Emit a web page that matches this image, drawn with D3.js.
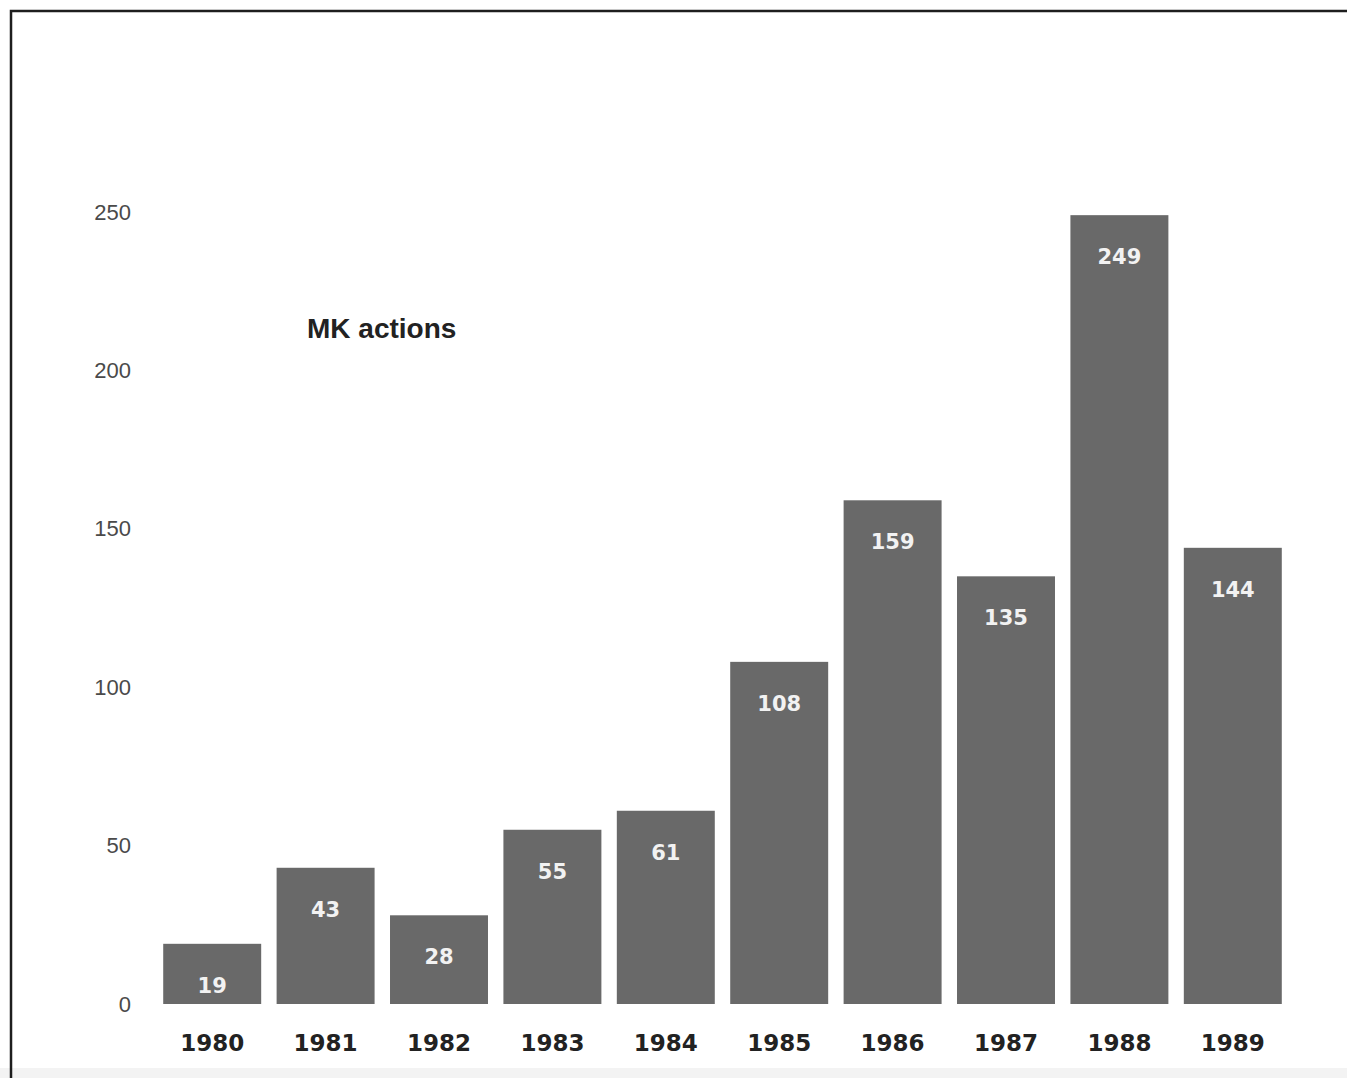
<!DOCTYPE html>
<html>
<head>
<meta charset="utf-8">
<script src="https://cdn.jsdelivr.net/npm/d3@7"></script>
<style>
  body { margin: 0; background: #fff; }
  svg { display: block; }
</style>
</head>
<body>
<script>
// chart data
var years = ['1980', '1981', '1982', '1983', '1984', '1985', '1986', '1987', '1988', '1989'];
var actions = [19, 43, 28, 55, 61, 108, 159, 135, 249, 144];
var yTicks = [0, 50, 100, 150, 200, 250];
var title = 'MK actions';

var width = 1347, height = 1078;

var svg = d3.select('body').append('svg')
  .attr('width', width)
  .attr('height', height);

// frame around the chart
svg.append('rect')
  .attr('x', 0).attr('y', 1068)
  .attr('width', width).attr('height', 10)
  .attr('fill', '#f3f3f3');
svg.append('path')
  .attr('d', 'M11,' + height + 'V11H' + width)
  .attr('fill', 'none')
  .attr('stroke', '#1e1e1e')
  .attr('stroke-width', 2.5);

// scales
var x = d3.scaleBand()
  .domain(years)
  .range([155.5, 1289.5])
  .paddingInner(0.136)
  .paddingOuter(0.068);

var y = d3.scaleLinear()
  .domain([0, 250])
  .range([1004, 212]);

// y axis labels only
var yAxis = svg.append('g')
  .attr('transform', 'translate(131,0)')
  .call(d3.axisLeft(y).tickValues(yTicks).tickSize(0).tickPadding(0));
yAxis.select('.domain').remove();
yAxis.selectAll('text')
  .attr('font-family', 'Liberation Sans, Arial, sans-serif')
  .attr('font-size', 22)
  .attr('fill', '#4a4a4a');

// bars
svg.append('g').selectAll('rect')
  .data(actions)
  .join('rect')
  .attr('x', function(d, i) { return x(years[i]); })
  .attr('y', function(d) { return y(d); })
  .attr('width', x.bandwidth())
  .attr('height', function(d) { return y(0) - y(d); })
  .attr('fill', '#696969');

// value labels inside bars
svg.append('g').selectAll('text')
  .data(actions)
  .join('text')
  .attr('x', function(d, i) { return x(years[i]) + x.bandwidth() / 2; })
  .attr('y', function(d) { return y(d) + 42; })
  .attr('text-anchor', 'middle')
  .attr('dominant-baseline', 'central')
  .attr('font-family', 'DejaVu Sans, sans-serif')
  .attr('font-weight', 'bold')
  .attr('font-size', 21)
  .attr('fill', '#f2f2f2')
  .text(function(d) { return d; });

// x axis labels
var xAxis = svg.append('g')
  .attr('transform', 'translate(0,1004)')
  .call(d3.axisBottom(x).tickSize(0).tickPadding(0));
xAxis.select('.domain').remove();
xAxis.selectAll('text')
  .attr('dy', null)
  .attr('y', 39)
  .attr('dominant-baseline', 'central')
  .attr('font-family', 'DejaVu Sans, sans-serif')
  .attr('font-weight', 'bold')
  .attr('font-size', 23)
  .attr('fill', '#222');

// title
svg.append('text')
  .attr('x', 307)
  .attr('y', 328)
  .attr('dominant-baseline', 'central')
  .attr('font-family', 'Liberation Sans, Arial, sans-serif')
  .attr('font-weight', 'bold')
  .attr('font-size', 28)
  .attr('fill', '#222')
  .text(title);
</script>
</body>
</html>
